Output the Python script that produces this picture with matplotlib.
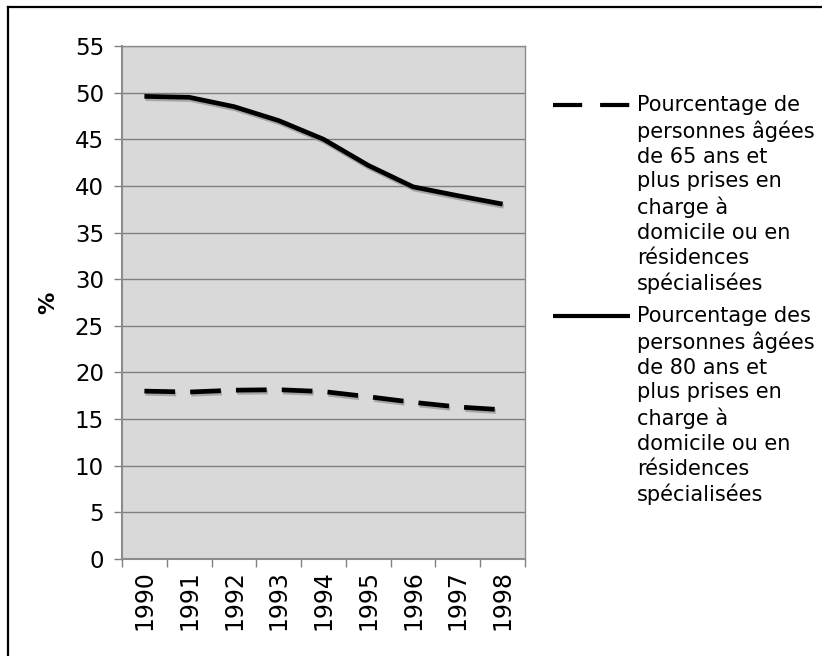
import matplotlib
matplotlib.use("Agg")
import matplotlib.pyplot as plt
import matplotlib.patheffects as pe
from matplotlib.lines import Line2D
import numpy as np

annees = ['1990', '1991', '1992', '1993', '1994', '1995', '1996', '1997', '1998']
pct_65_plus = [18.0, 17.9, 18.1, 18.15, 17.95, 17.4, 16.8, 16.3, 16.0]
pct_80_plus = [49.6, 49.5, 48.5, 47.0, 45.0, 42.2, 39.9, 38.95, 38.05]

label_65 = ("Pourcentage de\npersonnes âgées\nde 65 ans et\nplus prises en\n"
            "charge à\ndomicile ou en\nrésidences\nspécialisées")
label_80 = ("Pourcentage des\npersonnes âgées\nde 80 ans et\nplus prises en\n"
            "charge à\ndomicile ou en\nrésidences\nspécialisées")

plt.rcParams['font.family'] = ['DejaVu Sans']

W, H = 822, 656
fig = plt.figure(figsize=(W / 100, H / 100), dpi=100)
ax = fig.add_axes([122 / W, 1 - 559 / H, (525 - 122) / W, (559 - 46) / H])
ax.set_facecolor('#d9d9d9')

x = np.arange(len(annees))
ombre = [pe.SimpleLineShadow(offset=(0.8, -1.6), shadow_color='#999999', alpha=0.8), pe.Normal()]

ax.plot(x, pct_65_plus, color='black', lw=3.4, dashes=(6.5, 3.2),
        solid_capstyle='butt', dash_capstyle='butt', path_effects=ombre)
ax.plot(x, pct_80_plus, color='black', lw=3.4, solid_capstyle='butt',
        path_effects=ombre)

ax.set_ylim(0, 55)
ax.set_yticks(range(0, 56, 5))
ax.set_xlim(-0.5, len(annees) - 0.5)
ax.set_xticks(x)
ax.set_xticklabels(annees, rotation=90)
ax.set_xticks(np.arange(-0.5, len(annees)), minor=True)
ax.tick_params(axis='x', which='major', length=0, pad=8, labelsize=17)
ax.tick_params(axis='x', which='minor', length=6, width=1, color='#808080')
ax.tick_params(axis='y', length=6, width=1, color='#808080', labelsize=16.5, pad=7)
ax.yaxis.grid(True, color='#7f7f7f', lw=1)
ax.set_axisbelow(True)
for s in ax.spines.values():
    s.set_color('#8c8c8c')
    s.set_linewidth(1)
ax.spines['left'].set_linewidth(1.5)
ax.spines['bottom'].set_linewidth(1.5)

ax.set_ylabel('%', fontsize=16, fontweight='bold', labelpad=12)

# legende
def entree(y_px, dashes, texte):
    yf = 1 - y_px / H
    ln = Line2D([553 / W, 630 / W], [yf, yf], transform=fig.transFigure,
                color='black', lw=3.0, solid_capstyle='butt', dash_capstyle='butt')
    if dashes:
        ln.set_dashes((7.0, 4.3))
    fig.add_artist(ln)
    fig.text(637 / W, 1 - (y_px - 10) / H, texte, fontsize=15, va='top', ha='left',
             linespacing=1.3, transform=fig.transFigure)

entree(105, True, label_65)
entree(316, False, label_80)

# cadre
fig.add_artist(Line2D([8 / W, 8 / W], [0, 1 - 7 / H], transform=fig.transFigure, color='black', lw=1.6))
fig.add_artist(Line2D([8 / W, 1], [1 - 7 / H, 1 - 7 / H], transform=fig.transFigure, color='black', lw=1.6))

fig.savefig('out.png', dpi=100)
